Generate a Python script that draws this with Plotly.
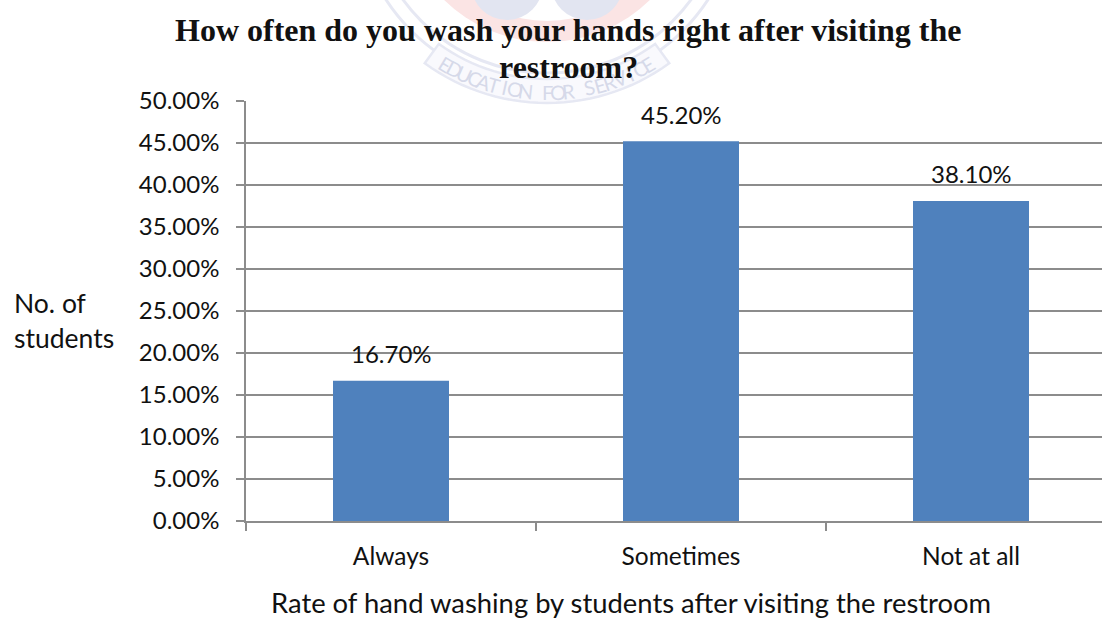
import math
import plotly.graph_objects as go

categories = ["Always", "Sometimes", "Not at all"]
shares = [16.7, 45.2, 38.1]
value_labels = ["16.70%", "45.20%", "38.10%"]
y_ticks = [0, 5, 10, 15, 20, 25, 30, 35, 40, 45, 50]
y_tick_labels = [f"{v:.2f}%" for v in y_ticks]
motto = "EDUCATION FOR SERVICE"

BODY_FONT = "Lato, Carlito, sans-serif"
TITLE_FONT = "Liberation Serif"
INK = "#111111"
AXIS_GREY = "#8c8c8c"
CREST_LINE = "#e6e8f3"
CREST_FILL = "#e2e5f1"
CREST_PINK = "#fbe4e4"
CREST_TEXT = "#d6d9e9"

W, H = 1102, 620
LEFT, RIGHT_EDGE, TOP, BOTTOM = 246, 1102, 101, 521
CREST_X, CREST_Y = 547, -105


def px(x):
    return x / W


def py(y):
    return 1 - y / H


def disc(cx, cy, r, fill="rgba(0,0,0,0)", line="rgba(0,0,0,0)", width=0):
    return dict(type="circle", xref="paper", yref="paper", layer="below",
                x0=px(cx - r), x1=px(cx + r), y0=py(cy + r), y1=py(cy - r),
                fillcolor=fill, line=dict(color=line, width=width))


def arc_points(radius, start, end, steps=30):
    pts = []
    for i in range(steps + 1):
        t = math.radians(start + (end - start) * i / steps)
        pts.append((CREST_X + radius * math.sin(t), CREST_Y + radius * math.cos(t)))
    return pts


def ribbon(inner, outer, half_angle):
    pts = arc_points(outer, -half_angle, half_angle) + arc_points(inner, half_angle, -half_angle)
    path = "M" + " L".join(f"{px(x):.5f},{py(y):.5f}" for x, y in pts) + " Z"
    return dict(type="path", xref="paper", yref="paper", layer="below", path=path,
                fillcolor="#f9f9fd", line=dict(color=CREST_LINE, width=2.5))


# College crest printed faintly behind the heading
crest_shapes = [
    disc(CREST_X, CREST_Y, 192, line=CREST_LINE, width=3),
    disc(CREST_X, CREST_Y, 178, line=CREST_LINE, width=3),
    disc(CREST_X, CREST_Y, 147, fill=CREST_PINK),
    disc(CREST_X, CREST_Y, 126, fill="white"),
    disc(507, -16, 36, fill=CREST_FILL),
    disc(587, -16, 36, fill=CREST_FILL),
    ribbon(184, 208, 36),
]

fig = go.Figure(
    go.Bar(
        x=categories,
        y=shares,
        width=0.4,
        marker=dict(color="#4f81bd", line=dict(width=0)),
        hoverinfo="x+y",
    )
)

annotations = []


def note(text, x, y, family=BODY_FONT, size=26.5, anchor="center", color=INK, angle=0):
    annotations.append(dict(text=text, x=px(x), y=py(y), xref="paper", yref="paper",
                            showarrow=False, xanchor=anchor, yanchor="middle", textangle=angle,
                            font=dict(family=family, size=size, color=color)))


# Motto follows the curve of the ribbon, one letter at a time
spread = 31.0
for i, letter in enumerate(motto):
    if letter == " ":
        continue
    angle = -spread + 2 * spread * i / (len(motto) - 1)
    t = math.radians(angle)
    note(letter, CREST_X + 197 * math.sin(t), CREST_Y + 197 * math.cos(t),
         family="Lato", size=20, color=CREST_TEXT, angle=-angle)

note("<b>How often do you wash your hands right after visiting the</b>", 568, 30,
     family=TITLE_FONT, size=32)
note("<b>restroom?</b>", 568, 67, family=TITLE_FONT, size=32)
note("No. of", 12, 303, anchor="left")
note("students", 12, 338, anchor="left")
note("Rate of hand washing by students after visiting the restroom", 631, 602, size=27.4)

# Value labels sit a fixed distance above each bar
for name, value, label in zip(categories, shares, value_labels):
    annotations.append(dict(text=label, x=name, y=value, xref="x", yref="y", showarrow=False,
                            xanchor="center", yanchor="middle", yshift=27,
                            font=dict(family=BODY_FONT, size=24, color=INK)))

fig.update_layout(
    width=W,
    height=H,
    paper_bgcolor="white",
    plot_bgcolor="rgba(0,0,0,0)",
    showlegend=False,
    margin=dict(l=0, r=0, t=0, b=0),
    annotations=annotations,
    shapes=crest_shapes,
    xaxis=dict(
        automargin=False,
        domain=[px(LEFT), 1],
        type="category",
        range=[-0.5, -0.5 + (RIGHT_EDGE - LEFT) / 290],
        tickson="boundaries",
        ticks="outside",
        ticklen=8,
        tickcolor=AXIS_GREY,
        tickwidth=1.5,
        ticklabelstandoff=13,
        showgrid=False,
        showline=True,
        linecolor=AXIS_GREY,
        linewidth=1.5,
        tickfont=dict(family=BODY_FONT, size=24.5, color=INK),
    ),
    yaxis=dict(
        automargin=False,
        domain=[py(BOTTOM), py(TOP)],
        range=[0, 50],
        tickvals=y_ticks,
        ticktext=y_tick_labels,
        ticks="outside",
        ticklen=8,
        tickcolor=AXIS_GREY,
        tickwidth=1.5,
        ticklabelstandoff=12,
        showgrid=True,
        gridcolor=AXIS_GREY,
        gridwidth=1.5,
        showline=True,
        linecolor=AXIS_GREY,
        linewidth=1.5,
        zeroline=False,
        tickfont=dict(family=BODY_FONT, size=24, color=INK),
    ),
)

fig.write_html("out.html", config={"displayModeBar": False})
